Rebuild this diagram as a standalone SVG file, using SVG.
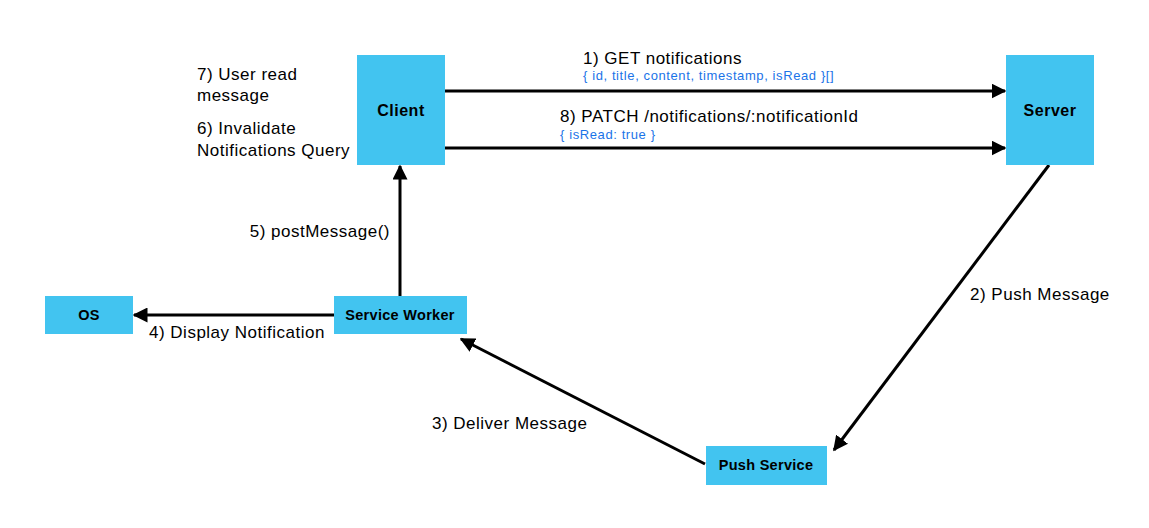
<svg xmlns="http://www.w3.org/2000/svg" width="1149" height="528" viewBox="0 0 1149 528">
<style>
.box{fill:#42c4f0}
.nl{font-family:"Liberation Sans",Arial,sans-serif;font-weight:bold;font-size:16px;letter-spacing:0.5px;fill:#000;text-anchor:middle}
.nls{font-family:"Liberation Sans",Arial,sans-serif;font-weight:bold;font-size:14.5px;letter-spacing:0.3px;fill:#000;text-anchor:middle}
.lb{font-family:"Liberation Sans",Arial,sans-serif;font-size:17px;letter-spacing:0.5px;fill:#000}
.sm{font-family:"Liberation Sans",Arial,sans-serif;font-size:13px;letter-spacing:0.6px;fill:#1a73e8}
.cn{stroke:#000;stroke-width:3;fill:none;marker-end:url(#ah)}
</style>
<defs>
<marker id="ah" viewBox="0 0 10 10" refX="9" refY="5" markerWidth="5" markerHeight="5" orient="auto" markerUnits="strokeWidth">
<path d="M0,0 L10,5 L0,10 z" fill="#000"/>
</marker>
</defs>
<rect width="1149" height="528" fill="#fff"/>
<g id="connectors">
<line class="cn" x1="445" y1="91" x2="1005" y2="91"/>
<line class="cn" x1="445" y1="148" x2="1005" y2="148"/>
<line class="cn" x1="1049" y1="165" x2="834" y2="450"/>
<line class="cn" x1="705" y1="464" x2="461" y2="339"/>
<line class="cn" x1="334" y1="315" x2="134" y2="315"/>
<line class="cn" x1="400" y1="296" x2="400" y2="166"/>
</g>
<g id="labels">
<text class="lb" x="583" y="64">1) GET notifications</text>
<text class="sm" x="583" y="80">{ id, title, content, timestamp, isRead }[]</text>
<text class="lb" x="560" y="122">8) PATCH /notifications/:notificationId</text>
<text class="sm" x="560" y="139">{ isRead: true }</text>
<text class="lb" x="197" y="80">7) User read</text>
<text class="lb" x="197" y="101">message</text>
<text class="lb" x="197" y="134">6) Invalidate</text>
<text class="lb" x="197" y="156">Notifications Query</text>
<text class="lb" x="390" y="237" text-anchor="end">5) postMessage()</text>
<text class="lb" x="149" y="338">4) Display Notification</text>
<text class="lb" x="970" y="300">2) Push Message</text>
<text class="lb" x="432" y="429">3) Deliver Message</text>
</g>
<g id="client"><rect class="box" x="357" y="55" width="88" height="110"/><text class="nl" x="401" y="116">Client</text></g>
<g id="server"><rect class="box" x="1006" y="55" width="88" height="110"/><text class="nl" x="1050" y="116">Server</text></g>
<g id="os"><rect class="box" x="45" y="296" width="88" height="38"/><text class="nls" x="89" y="320">OS</text></g>
<g id="service-worker"><rect class="box" x="334" y="296" width="133" height="38"/><text class="nls" x="400" y="320">Service Worker</text></g>
<g id="push-service"><rect class="box" x="706" y="446" width="121" height="39"/><text class="nls" x="766" y="470">Push Service</text></g>
</svg>
